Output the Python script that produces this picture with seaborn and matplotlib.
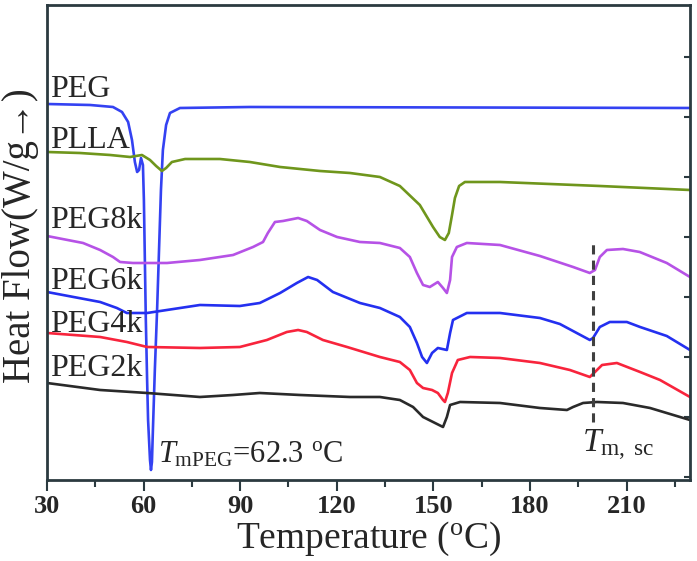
import matplotlib

matplotlib.use("Agg")
import matplotlib.pyplot as plt
import pandas as pd
import seaborn as sns
from matplotlib.ticker import MultipleLocator

# DSC heating traces, temperature in degC, heat flow in arbitrary units (exo up)
peg_t = [30.0, 43.4, 50.5, 53.3, 55.2, 56.4, 57.3, 58.0, 58.6, 59.2, 59.8, 60.1, 60.4, 60.7, 61.1,
         61.4, 62.0, 62.3, 62.6, 62.9, 63.5, 64.2, 64.8, 65.4, 66.0, 67.0, 68.2, 71.3, 93.0, 229.7]
peg_hf = [373, 372, 370, 365, 355, 337, 315, 305, 307, 319, 312, 277, 217, 157, 97,
          57, 17, 7, 15, 47, 107, 167, 227, 287, 327, 352, 364, 369, 370, 369]

plla_t = [30.0, 40.2, 49.6, 55.8, 57.6, 59.5, 62.0, 63.9, 65.7, 67.0, 68.8, 72.9, 83.7, 93.0, 102.4,
          114.8, 124.1, 133.4, 139.6, 145.8, 149.9, 152.0, 153.6, 154.8, 155.8, 156.7, 158.0, 159.8,
          170.7, 201.7, 229.7]
plla_hf = [325, 324, 322, 320, 321, 322, 317, 311, 306, 309, 315, 318, 318, 315, 310,
           306, 304, 300, 291, 272, 250, 240, 237, 244, 262, 279, 291, 295,
           295, 291, 287]

peg8k_t = [30.0, 41.2, 46.5, 50.5, 52.7, 56.7, 67.3, 77.5, 87.8, 94.0, 97.1, 98.6, 100.8, 103.3, 108.0,
           110.7, 114.8, 120.1, 127.2, 133.4, 139.6, 142.7, 144.9, 146.8, 148.9, 151.4, 153.0, 154.2,
           155.2, 155.8, 157.3, 160.4, 170.7, 183.1, 193.4, 198.6, 200.2, 201.7, 203.9, 208.9, 214.1,
           222.5, 229.7]
peg8k_hf = [241, 234, 227, 220, 215, 214, 214, 217, 222, 230, 235, 244, 255, 256, 259,
            256, 247, 240, 235, 234, 229, 220, 204, 192, 190, 195, 189, 184,
            197, 220, 230, 234, 232, 221, 210, 204, 207, 220, 227, 228, 225,
            214, 200]

peg6k_t = [30.0, 46.5, 51.7, 54.8, 61.1, 77.5, 89.9, 96.1, 102.4, 107.6, 111.1, 113.9, 118.8, 127.2,
           133.4, 139.6, 142.7, 144.9, 146.5, 148.0, 149.6, 151.4, 154.2, 155.2, 156.1, 160.4, 170.7,
           183.1, 189.3, 198.6, 199.6, 201.7, 204.8, 210.1, 214.2, 222.5, 229.7]
peg6k_hf = [185, 175, 169, 164, 164, 172, 171, 174, 184, 194, 200, 197, 185, 174,
            169, 160, 150, 134, 120, 114, 124, 129, 127, 144, 157, 164, 164,
            159, 153, 137, 139, 150, 155, 155, 150, 141, 127]

peg4k_t = [30.0, 46.5, 54.8, 61.1, 77.5, 89.9, 98.3, 104.5, 108.0, 110.7, 115.7, 123.2, 133.4, 139.6,
           142.7, 144.9, 146.8, 149.6, 151.4, 153.0, 153.6, 154.5, 155.8, 157.6, 161.4, 170.7, 183.1,
           192.4, 198.6, 200.2, 202.4, 207.0, 214.2, 220.4, 229.7]
peg4k_hf = [144, 140, 135, 130, 129, 130, 137, 145, 147, 145, 137, 130, 120, 115,
            107, 94, 89, 87, 84, 77, 75, 84, 104, 117, 120, 119, 114,
            107, 100, 105, 112, 114, 105, 97, 80]

peg2k_t = [30.0, 46.5, 61.1, 77.5, 87.8, 96.1, 108.6, 124.1, 133.4, 139.6, 143.7, 146.8, 149.9,
           153.0, 154.2, 155.2, 158.3, 170.7, 183.1, 191.5, 193.4, 196.5, 200.8, 208.9, 217.3, 229.7]
peg2k_hf = [94, 87, 84, 80, 82, 84, 82, 80, 80, 77, 70, 60, 55,
            50, 60, 72, 75, 74, 69, 67, 70, 74, 75, 74, 69, 57]

sample_names = ["PEG", "PLLA", "PEG8k", "PEG6k", "PEG4k", "PEG2k"]
sample_colors = ["#3442f2", "#6f961c", "#b652e6", "#2430f0", "#f8243c", "#2a2a2a"]
label_t = 30.9
label_hf = [380, 329, 249, 188, 145, 101]

tm_peg_t, tm_peg_hf = 64.5, 14
tm_sc = 199.5
tm_sc_span = [55, 237]
tm_sc_label = (196.1, 25)


def build_frame() -> pd.DataFrame:
    traces = [
        (peg_t, peg_hf),
        (plla_t, plla_hf),
        (peg8k_t, peg8k_hf),
        (peg6k_t, peg6k_hf),
        (peg4k_t, peg4k_hf),
        (peg2k_t, peg2k_hf),
    ]
    frames = []
    for name, (t, hf) in zip(sample_names, traces):
        frames.append(pd.DataFrame({"Temperature": t, "Heat flow": hf, "Sample": name}))
    return pd.concat(frames, ignore_index=True)


def main() -> None:
    df = build_frame()

    sns.set_style("ticks")
    plt.rcParams["font.family"] = ["Liberation Serif", "DejaVu Serif"]
    plt.rcParams["mathtext.fontset"] = "custom"
    plt.rcParams["mathtext.rm"] = "Liberation Serif"
    plt.rcParams["mathtext.it"] = "Liberation Serif:italic"

    fig = plt.figure(figsize=(6.97, 5.61), dpi=100)
    ax = fig.add_axes([0.0674, 0.1444, 0.9225, 0.8467])

    sns.lineplot(
        data=df,
        x="Temperature",
        y="Heat flow",
        hue="Sample",
        palette=dict(zip(sample_names, sample_colors)),
        estimator=None,
        sort=False,
        linewidth=1.9,
        legend=False,
        ax=ax,
    )

    # sc-crystal melting marker
    ax.vlines(tm_sc, *tm_sc_span, colors="#404040", linestyles=(0, (3, 2)), linewidth=2.2)

    for name, hf in zip(sample_names, label_hf):
        ax.text(label_t, hf, name, fontsize=23, ha="left", va="baseline")

    ax.text(tm_peg_t, tm_peg_hf, r"$T_{\rm mPEG}$=62.3 $^{\rm o}$C", fontsize=22, va="baseline")
    ax.text(*tm_sc_label, r"$T_{\rm m,\ sc}$", fontsize=24, va="baseline")

    ax.set_xlim(30, 229.7)
    ax.set_ylim(-3, 472)
    ax.set_xticks(range(30, 211, 30))
    ax.xaxis.set_minor_locator(MultipleLocator(15))
    ax.yaxis.set_major_locator(MultipleLocator(60))

    ax.tick_params(axis="x", which="major", direction="out", length=8, width=1.5,
                   labelsize=19, pad=3, color="#2b3a40")
    ax.tick_params(axis="x", which="minor", direction="out", length=5, width=1.5, color="#2b3a40")
    ax.tick_params(axis="y", which="both", left=False, right=True, labelleft=False,
                   direction="in", length=4, width=1.5, color="#2b3a40")
    for lbl in ax.get_xticklabels():
        lbl.set_fontweight("bold")

    for spine in ax.spines.values():
        spine.set_visible(True)
        spine.set_color("#2b3a40")
        spine.set_linewidth(2)

    ax.set_xlabel(r"Temperature ($^{\rm o}$C)", fontsize=27, labelpad=1)
    ax.set_ylabel("Heat Flow(W/g\u2192)", fontsize=28)
    ax.yaxis.set_label_coords(-0.013, 0.515)

    fig.savefig("out.png", dpi=100)


if __name__ == "__main__":
    main()
